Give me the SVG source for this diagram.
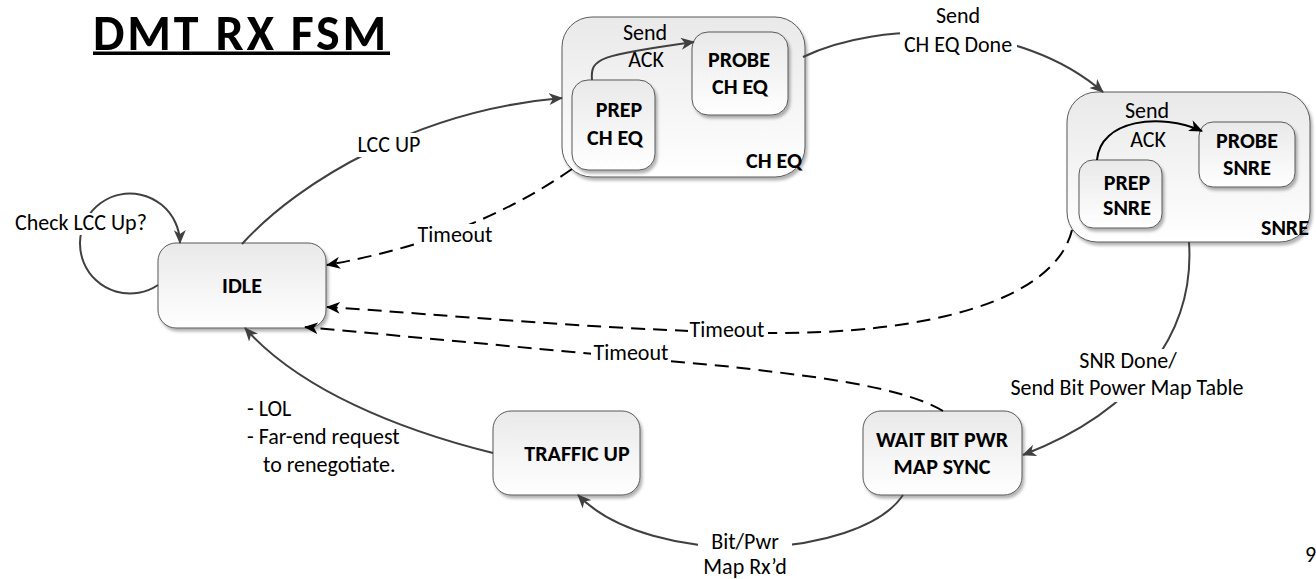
<svg xmlns="http://www.w3.org/2000/svg" width="1316" height="579" viewBox="0 0 1316 579">
<style>
text{font-family:Carlito,Lato,"Liberation Sans",sans-serif;fill:#000}
.l{font-size:22px}
.b{font-size:22px;font-weight:bold}
.t{font-size:50px;font-weight:bold;letter-spacing:2.8px}
.node{fill:url(#g);stroke:#595959;stroke-width:1;filter:url(#sh)}
.s{fill:none;stroke:#404040;stroke-width:2}
.k{fill:none;stroke:#000;stroke-width:2}
.d{fill:none;stroke:#000;stroke-width:2;stroke-dasharray:14,8}
.bg{fill:#fff}
</style>
<defs>
<linearGradient id="g" x1="0" y1="0" x2="0" y2="1"><stop offset="0" stop-color="#e9e9e9"/><stop offset="1" stop-color="#ffffff"/></linearGradient>
<filter id="sh" x="-10%" y="-10%" width="130%" height="130%"><feDropShadow dx="2" dy="3" stdDeviation="1.5" flood-color="#000" flood-opacity="0.3"/></filter>
<marker id="ag" viewBox="0 0 14 12" refX="13" refY="6" markerWidth="14" markerHeight="12" markerUnits="userSpaceOnUse" orient="auto"><path d="M0,0 L14,6 L0,12 L4,6 z" fill="#404040"/></marker>
<marker id="ak" viewBox="0 0 14 12" refX="13" refY="6" markerWidth="14" markerHeight="12" markerUnits="userSpaceOnUse" orient="auto"><path d="M0,0 L14,6 L0,12 L4,6 z" fill="#000"/></marker>
</defs>
<rect width="1316" height="579" fill="#fff"/>
<g id="title">
<text class="t" x="93" y="49.5">DMT RX FSM</text>
<rect x="93" y="51.5" width="297" height="3.5" fill="#000"/>
</g>
<g id="node-idle"><rect class="node" x="158" y="243" width="168" height="85" rx="18"/><text class="b" x="242" y="293" text-anchor="middle">IDLE</text></g>
<g id="node-cheq"><rect class="node" x="562" y="17" width="243" height="160" rx="30"/></g>
<g id="node-snre"><rect class="node" x="1067" y="92" width="243" height="150" rx="30"/></g>
<g id="node-prep-cheq"><rect class="node" x="572" y="80" width="83" height="90" rx="16"/><text class="b" x="619" y="117" text-anchor="middle">PREP</text><text class="b" x="615" y="145" text-anchor="middle">CH EQ</text></g>
<g id="node-probe-cheq"><rect class="node" x="692" y="32" width="96" height="83" rx="16"/><text class="b" x="739" y="67" text-anchor="middle">PROBE</text><text class="b" x="740" y="94" text-anchor="middle">CH EQ</text></g>
<g id="node-prep-snre"><rect class="node" x="1079" y="160" width="83" height="68" rx="14"/><text class="b" x="1127" y="190" text-anchor="middle">PREP</text><text class="b" x="1127" y="215" text-anchor="middle">SNRE</text></g>
<g id="node-probe-snre"><rect class="node" x="1199" y="122" width="96" height="65" rx="14"/><text class="b" x="1247" y="148" text-anchor="middle">PROBE</text><text class="b" x="1247" y="175" text-anchor="middle">SNRE</text></g>
<g id="node-traffic"><rect class="node" x="493" y="411" width="147" height="84" rx="18"/><text class="b" x="577" y="461" text-anchor="middle">TRAFFIC UP</text></g>
<g id="node-wait"><rect class="node" x="863" y="411" width="159" height="84" rx="18"/><text class="b" x="942" y="447" text-anchor="middle">WAIT BIT PWR</text><text class="b" x="942" y="474" text-anchor="middle">MAP SYNC</text></g>
<g id="container-labels">
<text class="b" x="802" y="168" text-anchor="end">CH EQ</text>
<text class="b" x="1309" y="235" text-anchor="end">SNRE</text>
</g>
<g id="connectors">
<path class="s" d="M158,285 A50,50 0 1 1 180,243" marker-end="url(#ag)"/>
<path class="s" d="M242,244 C300,180 420,110 562,98" marker-end="url(#ag)"/>
<path class="s" d="M592,80 C590,58 600,55 694,42" marker-end="url(#ag)"/>
<path class="k" d="M1097,160 C1100,120 1160,112 1202,131" marker-end="url(#ak)"/>
<path class="s" d="M803,57 C880,20 1020,20 1103,92" marker-end="url(#ag)"/>
<path class="d" d="M572,169 Q470,240 327,265" marker-end="url(#ak)"/>
<path class="d" d="M1072,230 C1055,300 930,335 760,333 C600,330 450,315 327,307" marker-end="url(#ak)"/>
<path class="d" d="M943,411 C900,385 800,375 733,367 L305,327" marker-end="url(#ak)"/>
<path class="s" d="M1189,242 C1195,330 1140,410 1023,455" marker-end="url(#ag)"/>
<path class="s" d="M903,495 C860,560 650,570 578,495" marker-end="url(#ag)"/>
<path class="s" d="M493,453 C400,430 300,390 245,328" marker-end="url(#ag)"/>
</g>
<g id="labels">
<rect class="bg" x="14" y="213" width="140" height="22"/>
<text class="l" x="15" y="230">Check LCC Up?</text>
<rect class="bg" x="355" y="133" width="69" height="24"/>
<text class="l" x="389" y="152" text-anchor="middle">LCC UP</text>
<text class="l" x="645" y="40" text-anchor="middle">Send</text>
<text class="l" x="646" y="67" text-anchor="middle">ACK</text>
<text class="l" x="1147" y="118" text-anchor="middle">Send</text>
<text class="l" x="1148" y="147" text-anchor="middle">ACK</text>
<rect class="bg" x="900" y="4" width="117" height="52"/>
<text class="l" x="958" y="23" text-anchor="middle">Send</text>
<text class="l" x="958" y="52" text-anchor="middle">CH EQ Done</text>
<rect class="bg" x="416" y="224" width="80" height="24"/>
<text class="l" x="455" y="242" text-anchor="middle">Timeout</text>
<rect class="bg" x="688" y="319" width="80" height="24"/>
<text class="l" x="727" y="337" text-anchor="middle">Timeout</text>
<rect class="bg" x="591" y="342" width="80" height="24"/>
<text class="l" x="631" y="360" text-anchor="middle">Timeout</text>
<rect class="bg" x="1008" y="349" width="240" height="53"/>
<text class="l" x="1128" y="368" text-anchor="middle">SNR Done/</text>
<text class="l" x="1127" y="395" text-anchor="middle">Send Bit Power Map Table</text>
<text class="l" x="247" y="416">- LOL</text>
<text class="l" x="247" y="444">- Far-end request</text>
<text class="l" x="263" y="472">to renegotiate.</text>
<rect class="bg" x="698" y="531" width="94" height="48"/>
<text class="l" x="745" y="549" text-anchor="middle">Bit/Pwr</text>
<text class="l" x="745" y="574" text-anchor="middle">Map Rx’d</text>
<text class="l" x="1305" y="562">9</text>
</g>
</svg>
